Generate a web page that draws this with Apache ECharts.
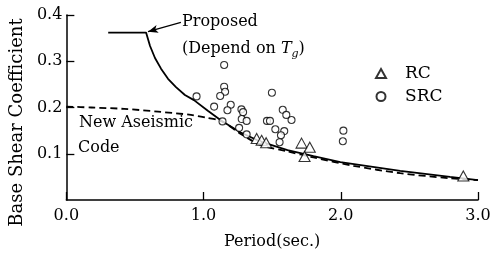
<!DOCTYPE html>
<html>
<head>
<meta charset="utf-8">
<script src="https://cdn.jsdelivr.net/npm/echarts@6/dist/echarts.min.js"></script>
<style>
html, body { margin: 0; padding: 0; background: #fff; }
#main { width: 499px; height: 256px; }
</style>
</head>
<body>
<div id="main"></div>
<script>
// Proposed (depends on Tg) - solid curve
const proposedT = [0.305, 0.581, 0.610, 0.646, 0.690, 0.741, 0.799, 0.864, 0.930, 1.031, 1.133, 1.271, 1.416, 1.612, 1.801, 1.997, 2.433, 2.796, 3.0]
const proposedC = [0.362, 0.362, 0.333, 0.307, 0.284, 0.262, 0.244, 0.227, 0.216, 0.193, 0.171, 0.146, 0.126, 0.108, 0.095, 0.082, 0.063, 0.050, 0.043]

// New Aseismic Code - dashed curve
const codeT = [0, 0.182, 0.421, 0.668, 0.908, 1.017, 1.133, 1.271, 1.416, 1.612, 1.801, 2.092, 2.433, 2.796, 3.0]
const codeC = [0.202, 0.200, 0.197, 0.191, 0.184, 0.178, 0.170, 0.143, 0.119, 0.105, 0.092, 0.074, 0.058, 0.047, 0.043]

// RC buildings (triangles)
const rcT = [1.387, 1.423, 1.456, 1.714, 1.774, 1.736, 2.893]
const rcC = [0.133, 0.129, 0.124, 0.123, 0.114, 0.094, 0.052]

// SRC buildings (circles)
const srcT = [0.949, 1.150, 1.150, 1.157, 1.121, 1.077, 1.198, 1.174, 1.276, 1.288, 1.278, 1.314, 1.138, 1.259, 1.314,
  1.498, 1.577, 1.603, 1.641, 1.462, 1.484, 1.523, 1.588, 1.564, 1.554, 2.019, 2.015]
const srcC = [0.224, 0.292, 0.245, 0.234, 0.225, 0.202, 0.206, 0.194, 0.196, 0.190, 0.175, 0.171, 0.170, 0.156, 0.142,
  0.232, 0.195, 0.184, 0.173, 0.171, 0.171, 0.153, 0.149, 0.140, 0.125, 0.150, 0.127]

const zip = (a, b) => a.map((v, i) => [v, b[i]])
const serif = 'DejaVu Serif'

const chart = echarts.init(document.getElementById('main'))

chart.setOption({
  animation: false,
  backgroundColor: '#fff',
  textStyle: { fontFamily: serif, color: '#000' },
  grid: { left: 65, right: 21, top: 15, bottom: 56 },
  legend: {
    data: ['RC', 'SRC'],
    orient: 'vertical',
    left: 370,
    top: 60,
    itemWidth: 10,
    itemHeight: 9,
    itemGap: 6,
    textStyle: { fontFamily: serif, fontSize: 17, color: '#000', padding: [0, 0, 0, 14] }
  },
  xAxis: {
    type: 'value',
    min: 0,
    max: 3,
    interval: 1,
    name: 'Period(sec.)',
    nameLocation: 'middle',
    nameGap: 34,
    nameTextStyle: { fontFamily: serif, fontSize: 16, color: '#000' },
    axisLine: { lineStyle: { color: '#000', width: 1.5 } },
    axisTick: { inside: true, length: 8, lineStyle: { color: '#000', width: 1.3 } },
    axisLabel: { fontFamily: serif, fontSize: 16, color: '#000', margin: 8, formatter: v => v.toFixed(1) },
    splitLine: { show: false }
  },
  yAxis: {
    type: 'value',
    min: 0,
    max: 0.4,
    interval: 0.1,
    name: 'Base Shear Coefficient',
    nameLocation: 'middle',
    nameGap: 37,
    nameTextStyle: { fontFamily: serif, fontSize: 18, color: '#000', padding: [0, 30, 0, 0] },
    axisLine: { lineStyle: { color: '#000', width: 1.5 } },
    axisTick: { inside: true, length: 8, lineStyle: { color: '#000', width: 1.3 } },
    axisLabel: { fontFamily: serif, fontSize: 16, color: '#000', margin: 4, showMinLabel: false, formatter: v => v.toFixed(1) },
    splitLine: { show: false }
  },
  graphic: [
    { type: 'text', x: 182, y: 22, style: { text: 'Proposed', fontFamily: serif, fontSize: 16, fill: '#000', verticalAlign: 'middle' } },
    {
      type: 'text', x: 182, y: 49,
      style: {
        text: '(Depend on {i|T}{s|g})',
        fontFamily: serif, fontSize: 16, fill: '#000', verticalAlign: 'middle', lineHeight: 22,
        rich: {
          i: { fontFamily: serif, fontSize: 16, fontStyle: 'italic', lineHeight: 22 },
          s: { fontFamily: serif, fontSize: 11, fontStyle: 'italic', verticalAlign: 'bottom', lineHeight: 22 }
        }
      }
    },
    { type: 'text', x: 79, y: 123, style: { text: 'New Aseismic', fontFamily: serif, fontSize: 16, fill: '#000', verticalAlign: 'middle' } },
    { type: 'text', x: 78, y: 148, style: { text: 'Code', fontFamily: serif, fontSize: 16, fill: '#000', verticalAlign: 'middle' } }
  ],
  series: [
    {
      name: 'Proposed',
      type: 'line',
      data: zip(proposedT, proposedC),
      symbol: 'none',
      lineStyle: { color: '#000', width: 1.8 },
      z: 3,
      markLine: {
        silent: true,
        symbol: ['none', 'arrow'],
        symbolSize: [6, 10],
        label: { show: false },
        lineStyle: { color: '#000', width: 1.2, type: 'solid' },
        data: [[{ coord: [0.835, 0.384] }, { coord: [0.595, 0.364] }]]
      }
    },
    {
      name: 'New Aseismic Code',
      type: 'line',
      data: zip(codeT, codeC),
      symbol: 'none',
      smooth: 0.3,
      lineStyle: { color: '#000', width: 1.8, type: [7, 4] },
      z: 3
    },
    {
      name: 'RC',
      type: 'scatter',
      data: zip(rcT, rcC),
      symbol: 'triangle',
      symbolSize: [11, 10],
      itemStyle: { color: '#fff', borderColor: '#000', borderWidth: 1.1 },
      z: 5
    },
    {
      name: 'SRC',
      type: 'scatter',
      data: zip(srcT, srcC),
      symbol: 'circle',
      symbolSize: 7,
      itemStyle: { color: '#fff', borderColor: '#000', borderWidth: 1.1 },
      z: 5
    }
  ]
})
</script>
</body>
</html>
